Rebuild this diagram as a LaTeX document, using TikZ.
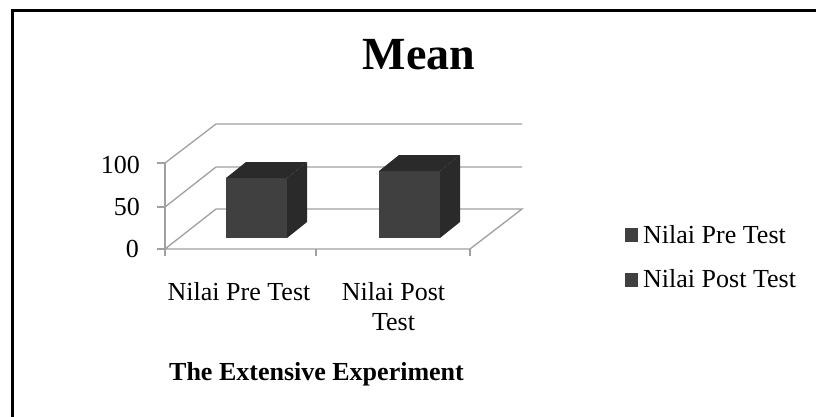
\documentclass[tikz,border=0pt]{standalone}
\usepackage{fontspec}
\setmainfont{Liberation Serif}
\definecolor{barfront}{HTML}{404040}
\definecolor{barside}{HTML}{2A2A2A}
\definecolor{gridgray}{HTML}{A0A0A0}
\tikzset{
  grid line/.style={draw=gridgray, line width=1.3pt},
  lbl/.style={inner sep=0pt, font=\fontsize{26}{30}\selectfont},
  bar front/.style={fill=barfront},
  bar side/.style={fill=barside},
}
\begin{document}
\begin{tikzpicture}[x=1pt, y=-1pt]
  \useasboundingbox (0,0) rectangle (816,417);
  \draw[line width=3pt] (12,417) -- (12,11) -- (816,11);
  \node[lbl, anchor=base, font=\fontsize{46}{50}\selectfont\bfseries] (title) at (419,70) {Mean};
  \begin{scope}[grid line]
    \draw (165,163) -- (216,124) -- (522,124);
    \draw (165,207) -- (216,167) -- (522,167);
    \draw (165,249) -- (216,209) -- (522,209) -- (470,249) -- (165,249);
    \draw (165,163) -- (165,256);
    \draw (157,163) -- (165,163);
    \draw (157,207) -- (165,207);
    \draw (157,249) -- (165,249);
    \draw (316,249) -- (316,256);
    \draw (470,249) -- (470,256);
  \end{scope}
  \begin{scope}
    \fill[bar front] (226,178) rectangle (287,238);
    \fill[bar side] (287,178) -- (307,162) -- (307,222) -- (287,238) -- cycle;
    \fill[bar side] (226,178) -- (246,162) -- (307,162) -- (287,178) -- cycle;
    \fill[bar front] (379,171) rectangle (440,238);
    \fill[bar side] (440,171) -- (460,155) -- (460,222) -- (440,238) -- cycle;
    \fill[bar side] (379,171) -- (399,155) -- (460,155) -- (440,171) -- cycle;
  \end{scope}
  \node[lbl, anchor=base east] (y100) at (140,173) {100};
  \node[lbl, anchor=base east] (y50) at (140,215) {50};
  \node[lbl, anchor=base east] (y0) at (139,257) {0};
  \node[lbl, anchor=base] (pre) at (239,300) {Nilai Pre Test};
  \node[lbl, anchor=base] (post) at (393.5,300) {Nilai Post};
  \node[lbl, anchor=base] (posttest) at (393.5,330) {Test};
  \node[lbl, anchor=base, font=\fontsize{26}{30}\selectfont\bfseries] (xtitle) at (316.5,380) {The Extensive Experiment};
  \fill[barfront] (625,228) rectangle (638,242);
  \node[lbl, anchor=base west] (legpre) at (643,243) {Nilai Pre Test};
  \fill[barfront] (625,273) rectangle (638,287);
  \node[lbl, anchor=base west] (legpost) at (643,287) {Nilai Post Test};
\end{tikzpicture}
\end{document}
